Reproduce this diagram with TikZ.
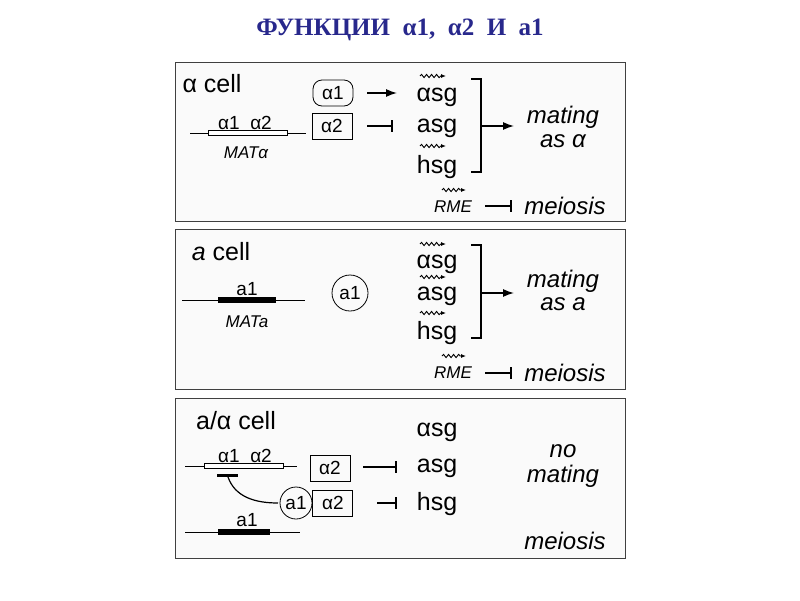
\documentclass[tikz,border=0pt]{standalone}
\usepackage{fontspec}
\setmainfont{Liberation Sans}
\newfontfamily\titlefont{Liberation Serif}
\usetikzlibrary{arrows.meta,decorations.pathmorphing}
\definecolor{navy}{RGB}{40,40,140}
\tikzset{
 panel/.style={draw=black!75,line width=1pt,fill=black!2},
 lbl/.style={font=\fontsize{25}{27}\selectfont,inner sep=0pt},
 itl/.style={font=\fontsize{24}{28}\selectfont\itshape,inner sep=0pt},
 small/.style={font=\fontsize{19}{21}\selectfont,inner sep=0pt},
 smalli/.style={font=\fontsize{17}{19}\selectfont\itshape,inner sep=0pt},
 pbox/.style={draw,line width=0.8pt,minimum width=40pt,minimum height=26pt,font=\fontsize{19}{21}\selectfont,inner sep=0pt},
 pcirc/.style={draw,circle,line width=0.8pt,minimum size=36pt,font=\fontsize{19}{21}\selectfont,inner sep=0pt},
 act/.style={line width=1.4pt,-{Latex[length=11pt,width=8pt]}},
 inh/.style={line width=1.4pt,-{Bar[width=12pt,line width=2.5pt]}},
 wig/.style={line width=0.9pt,decorate,decoration={snake,segment length=5pt,amplitude=1.6pt,post length=5pt},-{Latex[length=5pt,width=4pt]}},
 gene/.style={line width=1pt},
}
\begin{document}
\begin{tikzpicture}[x=1pt,y=-1pt]
\useasboundingbox (0,0) rectangle (800,600);
\node[text=navy,font=\titlefont\bfseries\fontsize{25}{27}\selectfont] (title) at (400,30) {ФУНКЦИИ\ \ α1,\ \ α2\ \ И\ \ a1};
% ---------- panel 1
\draw[panel] (175,62) rectangle (625,221);
\node[lbl] (c1) at (212,84) {α cell};
\draw[gene] (190,133) -- (306,133);
\draw[gene,fill=white] (208,130.5) rectangle (287,135.5);
\node[small] (g1) at (245,123) {α1\ \ α2};
\node[smalli] (m1) at (246,153) {MATα};
\node[pbox,rounded corners=9pt] (a1p) at (333,93) {α1};
\node[pbox] (a2p) at (332,126) {α2};
\node[lbl] (s1) at (437,97) {αsg};
\node[lbl] (s2) at (437,128) {asg};
\node[lbl] (s3) at (437,167) {hsg};
\coordinate (f1) at (367,93); \coordinate (t1) at (397,93);
\coordinate (f2) at (367,126); \coordinate (t2) at (393,126);
\draw[act] (f1) -- (t1);
\draw[inh] (f2) -- (t2);
\draw[wig] (420,76) -- (446,76);
\draw[wig] (420,146) -- (446,146);
\draw[line width=1.4pt] (471,79) -| (481,172) -- (471,172);
\coordinate (b1) at (481,126); \coordinate (e1) at (514,126);
\draw[act] (b1) -- (e1);
\node[itl] (mt1) at (563,117) {mating};
\node[itl] (as1) at (563,141) {as α};
\node[smalli] (r1) at (453,207) {RME};
\draw[wig] (442,190) -- (466,190);
\coordinate (r1s) at (485,206); \coordinate (r1e) at (512,206);
\draw[inh] (r1s) -- (r1e);
\node[itl] (me1) at (565,206) {meiosis};
% ---------- panel 2
\draw[panel] (175,229) rectangle (625,389);
\node[lbl] (c2) at (221,252) {\textit{a} cell};
\draw[gene] (182,300) -- (305,300);
\draw[line width=6pt] (218,300) -- (276,300);
\node[small] (g2) at (247,289) {a1};
\node[smalli] (m2) at (247,322) {MATa};
\node[pcirc] (a1c) at (350,293) {a1};
\node[lbl] (u1) at (437,264) {αsg};
\node[lbl] (u2) at (437,296) {asg};
\node[lbl] (u3) at (437,333) {hsg};
\draw[wig] (420,244) -- (446,244);
\draw[wig] (420,277) -- (446,277);
\draw[wig] (420,313) -- (446,313);
\draw[line width=1.4pt] (471,245) -| (481,338) -- (471,338);
\coordinate (b2) at (481,293); \coordinate (e2) at (514,293);
\draw[act] (b2) -- (e2);
\node[itl] (mt2) at (563,281) {mating};
\node[itl] (as2) at (563,304) {as a};
\node[smalli] (r2) at (453,373) {RME};
\draw[wig] (442,356) -- (466,356);
\coordinate (r2s) at (485,373); \coordinate (r2e) at (512,373);
\draw[inh] (r2s) -- (r2e);
\node[itl] (me2) at (565,373) {meiosis};
% ---------- panel 3
\draw[panel] (175,398) rectangle (625,558);
\node[lbl] (c3) at (236,421) {a/α cell};
\draw[gene] (185,466) -- (297,466);
\draw[gene,fill=white] (204,463.5) rectangle (283,468.5);
\node[small] (g3) at (245,456) {α1\ \ α2};
\coordinate (bar1) at (217,475); \coordinate (bar2) at (238,475);
\draw[line width=3pt] (bar1) -- (bar2);
\node[pbox] (a2q) at (330,468) {α2};
\node[pcirc,minimum size=32pt] (a1q) at (296,503) {a1};
\node[pbox,anchor=west] (a2r) at (a1q.east) {α2};
\draw[line width=1.2pt] (228,477) .. controls (235,497) and (255,503) .. (278,503);
\node[lbl] (v1) at (437,432) {αsg};
\node[lbl] (v2) at (437,468) {asg};
\node[lbl] (v3) at (437,504) {hsg};
\coordinate (f3) at (363,467); \coordinate (t3) at (397,467);
\coordinate (f4) at (377,503); \coordinate (t4) at (397,503);
\draw[inh] (f3) -- (t3);
\draw[inh] (f4) -- (t4);
\draw[gene] (185,532) -- (300,532);
\draw[line width=6pt] (218,532) -- (270,532);
\node[small] (g4) at (247,520) {a1};
\node[itl] (no) at (563,451) {no};
\node[itl] (mt3) at (563,476) {mating};
\node[itl] (me3) at (565,541) {meiosis};
\end{tikzpicture}
\end{document}
